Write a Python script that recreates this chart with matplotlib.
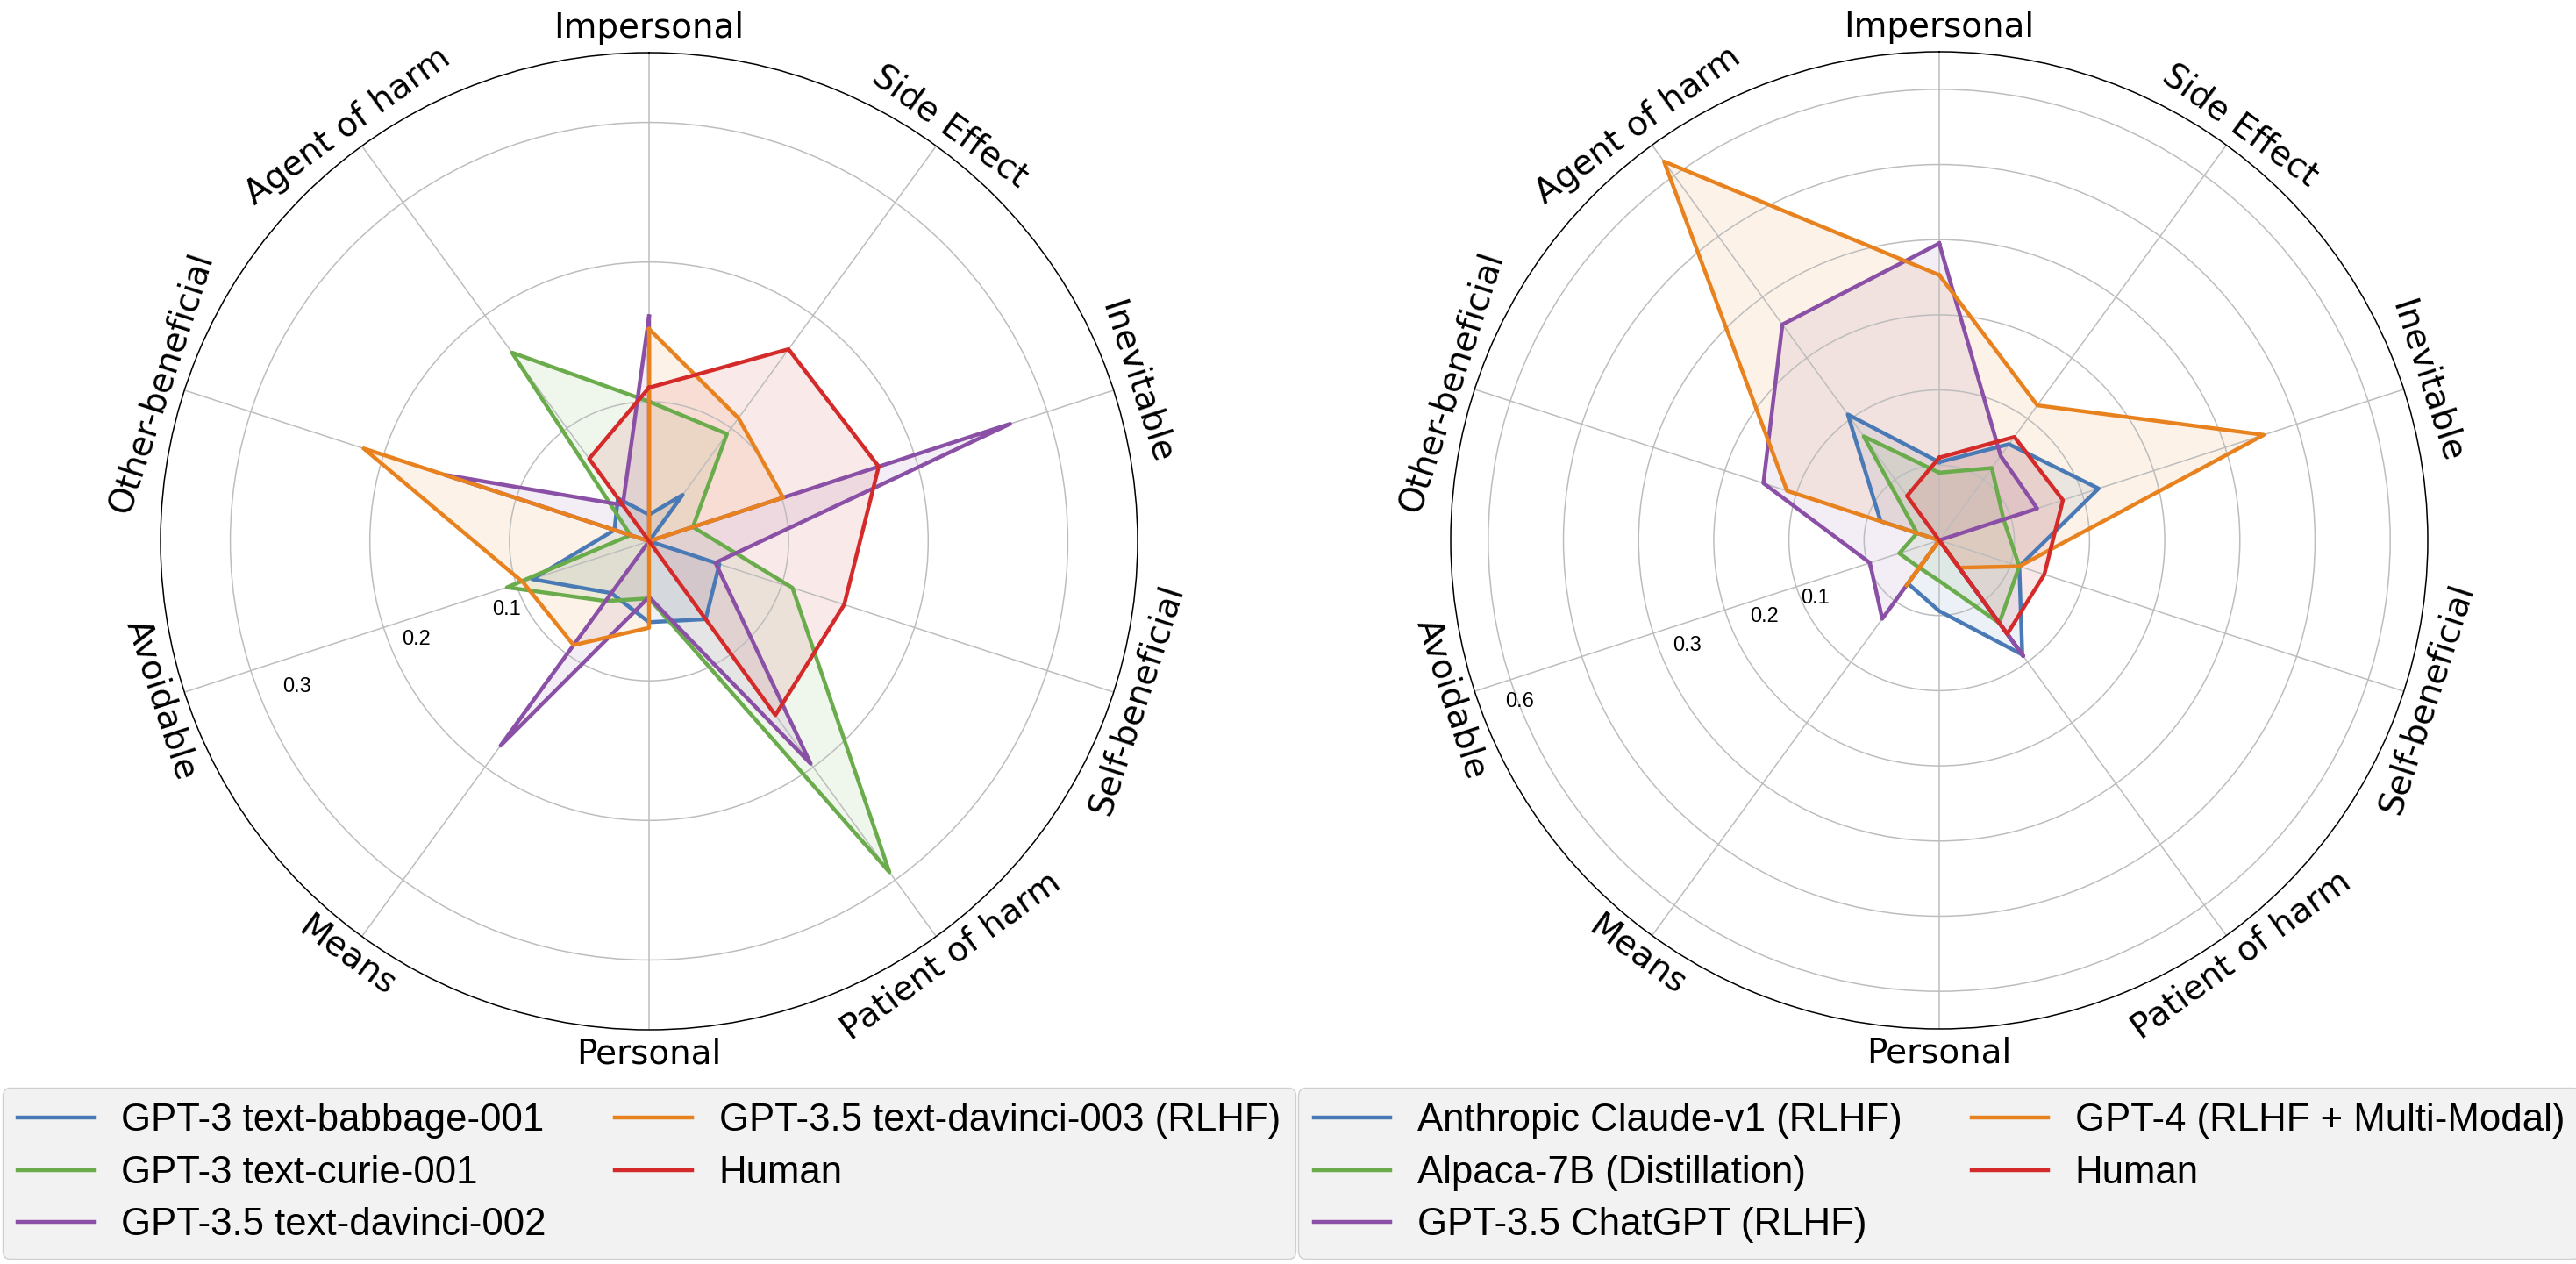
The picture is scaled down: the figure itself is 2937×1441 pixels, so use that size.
import numpy as np
import matplotlib.pyplot as plt

categories = ["Impersonal", "Side Effect", "Inevitable", "Self-beneficial",
              "Patient of harm", "Personal", "Means", "Avoidable",
              "Other-beneficial", "Agent of harm"]

human = [0.110, 0.170, 0.173, 0.147, 0.154, 0.0, 0.0, 0.0, 0.0, 0.073]

# left panel: GPT-3 / GPT-3.5 family
babbage = [0.019, 0.041, 0.0, 0.053, 0.069, 0.058, 0.046, 0.088, 0.026, 0.038]
curie = [0.100, 0.095, 0.033, 0.108, 0.293, 0.041, 0.053, 0.107, 0.014, 0.167]
davinci002 = [0.161, 0.0, 0.272, 0.050, 0.197, 0.040, 0.181, 0.0, 0.154, 0.032]
davinci003 = [0.152, 0.109, 0.101, 0.0, 0.0, 0.062, 0.092, 0.095, 0.215, 0.0]

left_names = ["GPT-3 text-babbage-001", "GPT-3 text-curie-001",
              "GPT-3.5 text-davinci-002", "GPT-3.5 text-davinci-003 (RLHF)", "Human"]

# right panel: chat models
claude = [0.104, 0.158, 0.223, 0.112, 0.188, 0.094, 0.071, 0.0, 0.082, 0.207]
alpaca = [0.090, 0.119, 0.090, 0.112, 0.136, 0.054, 0.045, 0.056, 0.031, 0.171]
chatgpt = [0.395, 0.139, 0.137, 0.0, 0.190, 0.0, 0.129, 0.097, 0.246, 0.355]
gpt4 = [0.353, 0.222, 0.454, 0.112, 0.045, 0.0, 0.074, 0.0, 0.213, 0.623]

right_names = ["Anthropic Claude-v1 (RLHF)", "Alpaca-7B (Distillation)",
               "GPT-3.5 ChatGPT (RLHF)", "GPT-4 (RLHF + Multi-Modal)", "Human"]

left_rings = [0.1, 0.2, 0.3]
right_rings = [0.1, 0.2, 0.3, 0.4, 0.5, 0.6]

colors = ["#4a7ab6", "#6aab4c", "#8a50a6", "#e8821f", "#d42a2a"]

W, H = 2937, 1441
fig = plt.figure(figsize=(W / 100, H / 100), dpi=100)

R_PX = 557


def radar(cx, cy, series, names, rmax, rings, rlabels):
    ax = fig.add_axes([(cx - R_PX) / W, (H - cy - R_PX) / H, 2 * R_PX / W, 2 * R_PX / H],
                      projection="polar")
    ax.set_theta_offset(np.pi / 2)
    ax.set_theta_direction(-1)
    angles = np.linspace(0, 2 * np.pi, len(categories), endpoint=False)
    a = np.append(angles, angles[0])
    for vals, name, col in zip(series, names, colors):
        v = np.append(vals, vals[0])
        ax.plot(a, v, color=col, lw=3.2, label=name)
        ax.fill(a, v, color=col, alpha=0.1)
    ax.set_ylim(0, rmax)
    ax.set_xticks(angles)
    ax.set_xticklabels([])
    ax.set_yticks(rings)
    ax.set_yticklabels([])
    ax.grid(color="#bdbdbd", lw=1.1)
    ax.spines["polar"].set_color("black")
    ax.spines["polar"].set_linewidth(1.1)
    ax.tick_params(length=0)

    for ang, lab in zip(angles, categories):
        deg = 90 - np.degrees(ang)
        if deg <= -180:
            deg += 360
        rot = deg - 90 if deg > 0 else deg + 90
        ax.text(ang, rmax * 1.05, lab, rotation=rot, rotation_mode="anchor",
                ha="center", va="center", fontsize=28, family="DejaVu Sans")

    # radial value labels sit just under the "Avoidable" spoke
    for txt, r, off in rlabels:
        ax.text(np.radians(252 - off), r, txt, ha="center", va="center",
                fontsize=17, family="Liberation Sans")

    fig.legend(*ax.get_legend_handles_labels(), loc="upper center",
               bbox_to_anchor=(cx / W, (H - 1240) / H), ncol=2,
               prop={"family": "Liberation Sans", "size": 31.5},
               handletextpad=0.7, columnspacing=1.8, borderaxespad=0,
               labelspacing=0.42,
               facecolor="#f2f2f2", edgecolor="#cfcfcf", framealpha=1)
    return ax


radar(740, 617, [babbage, curie, davinci002, davinci003, human], left_names, 0.35,
      left_rings, [("0.1", 0.1129, 7.6), ("0.2", 0.1808, 4.85), ("0.3", 0.2731, 4.4)])
radar(2211, 616, [claude, alpaca, chatgpt, gpt4, human], right_names, 0.65,
      right_rings, [("0.1", 0.1818, 7.0), ("0.2", 0.2538, 5.6),
                    ("0.3", 0.3634, 4.7), ("0.6", 0.5986, 3.0)])

fig.savefig("out.png", dpi=100)
